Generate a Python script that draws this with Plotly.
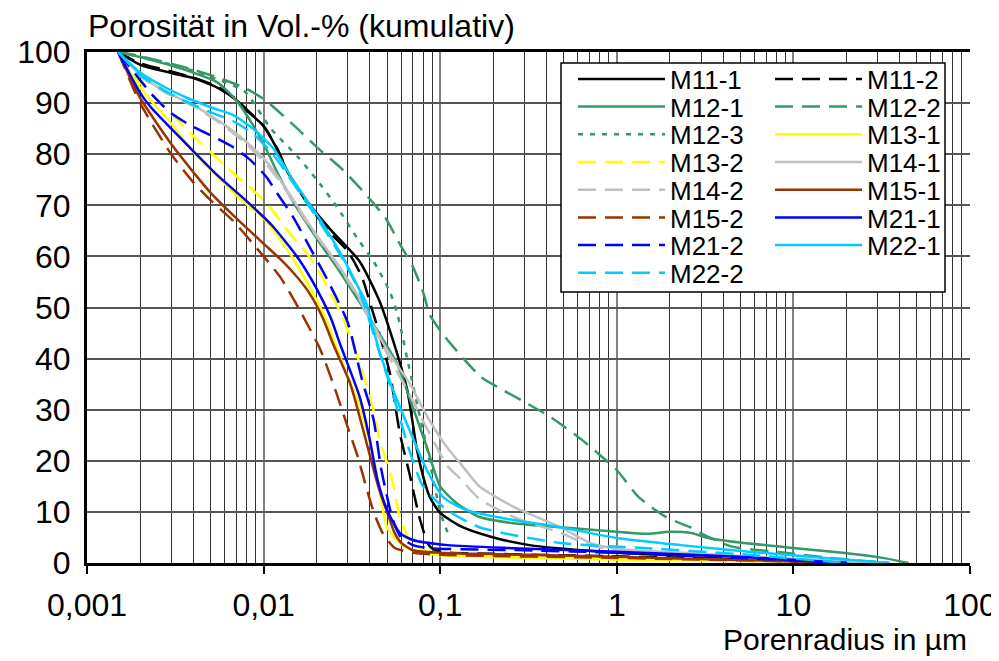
import plotly.graph_objects as go

# Porenradius in µm (x) und kumulative Porosität in Vol.-% (y)
x_m11_1 = [0.0015, 0.002, 0.003, 0.004, 0.0055, 0.007, 0.008, 0.01, 0.012, 0.0137, 0.018, 0.024, 0.035,
           0.045, 0.054, 0.065, 0.074, 0.08, 0.087, 0.1, 0.134, 0.2, 0.32, 0.5, 1, 3, 10, 30]
y_m11_1 = [100, 97.5, 95.9, 94.9, 93, 90.6, 88.6, 85.5, 80.8, 76.5, 70.4, 65.2, 59,
           51.5, 43.6, 33.9, 22, 17, 13, 9.8, 7, 5, 3.5, 2.8, 2, 1.3, 0.6, 0]

x_m11_2 = [0.0015, 0.002, 0.003, 0.004, 0.0055, 0.007, 0.008, 0.01, 0.012, 0.0137, 0.018, 0.024, 0.03,
           0.036, 0.04, 0.046, 0.052, 0.059, 0.067, 0.077, 0.087, 0.1, 0.2, 1, 5, 20]
y_m11_2 = [100, 97.8, 96.2, 95, 93.2, 90.8, 88.8, 85.5, 81, 76.5, 70, 64.5, 61,
           56, 51, 44, 37, 25.5, 17.5, 8.4, 3.3, 2.2, 1.8, 1.3, 0.7, 0]

x_m12_1 = [0.0015, 0.002, 0.0036, 0.0055, 0.0072, 0.0086, 0.0102, 0.012, 0.0145, 0.02, 0.027, 0.035,
           0.045, 0.057, 0.07, 0.084, 0.1, 0.124, 0.167, 0.26, 0.48, 1, 1.5, 2, 2.6, 3.3, 5, 9, 19, 32, 45]
y_m12_1 = [100, 99, 96.5, 94, 90, 86, 81.4, 76.3, 71, 63.5, 57, 51,
           45, 39, 30.5, 22.7, 15, 11.7, 9, 7.8, 7, 6.1, 5.7, 6.1, 5.9, 4.9, 4, 3.1, 2, 1, 0]

x_m12_2 = [0.0015, 0.002, 0.0036, 0.0055, 0.0078, 0.0102, 0.015, 0.02, 0.028, 0.036, 0.049, 0.06,
           0.07, 0.08, 0.0875, 0.1, 0.114, 0.17, 0.21, 0.3, 0.42, 0.64, 0.83, 1, 1.33, 1.9, 2.6,
           3.3, 4.5, 9, 16, 35]
y_m12_2 = [100, 99.2, 97, 95, 93, 90.6, 85.5, 81.4, 77, 73, 67.5, 62,
           58, 53, 48.5, 45.5, 43, 36.4, 34.5, 31.5, 28.6, 24, 20.7, 18.2, 12.9, 9, 7,
           5.1, 3.2, 2, 1, 0]

x_m12_3 = [0.0015, 0.002, 0.0036, 0.0055, 0.0078, 0.011, 0.0156, 0.02, 0.026, 0.034, 0.042, 0.047,
           0.052, 0.057, 0.0615, 0.065, 0.07, 0.074, 0.08, 0.087, 0.1, 0.113]
y_m12_3 = [100, 99.1, 96.8, 94.6, 92.3, 85, 79.5, 75, 69.7, 63.5, 59, 56,
           53, 49, 44, 40, 35, 31, 26, 20, 10, 5]

x_m13_1 = [0.0015, 0.002, 0.003, 0.004, 0.0057, 0.0075, 0.01, 0.014, 0.019, 0.023, 0.026, 0.03,
           0.034, 0.04, 0.044, 0.05, 0.059, 0.07, 0.1, 0.3, 1, 5, 20]
y_m13_1 = [100, 93, 86, 80.5, 75, 71, 67.5, 60.7, 52.8, 47, 42, 36.5,
           32, 23.5, 17, 7, 3.9, 2.5, 1.5, 1, 0.7, 0.4, 0]

x_m13_2 = [0.0015, 0.002, 0.003, 0.0038, 0.006, 0.0074, 0.0087, 0.0108, 0.014, 0.0175, 0.0208, 0.028,
           0.035, 0.042, 0.0455, 0.05, 0.054, 0.059, 0.067, 0.08, 0.1, 0.3, 1, 5, 20]
y_m13_2 = [100, 94, 88, 84.3, 77.9, 75, 73, 69.7, 64.6, 60.7, 56.8, 48.1,
           39.1, 29.9, 24, 19.5, 15.7, 9, 4.5, 2.5, 2, 1.2, 0.8, 0.4, 0]

x_m14_1 = [0.0015, 0.002, 0.0028, 0.004, 0.0057, 0.008, 0.0104, 0.0124, 0.019, 0.026, 0.034, 0.05,
           0.067, 0.085, 0.11, 0.13, 0.167, 0.26, 0.48, 0.7, 1, 3, 10, 30]
y_m14_1 = [100, 95.5, 92.2, 89.6, 86.3, 82.4, 78.5, 75, 65.2, 58.7, 52.5, 41.7,
           35.2, 28.5, 22.5, 19.5, 15, 11, 7, 4, 2.8, 1.8, 0.8, 0]

x_m14_2 = [0.0015, 0.002, 0.0028, 0.004, 0.0057, 0.008, 0.0104, 0.0124, 0.019, 0.026, 0.034, 0.05,
           0.067, 0.085, 0.11, 0.13, 0.167, 0.26, 0.48, 0.7, 1, 3, 10, 30]
y_m14_2 = [100, 95.3, 92, 89.4, 86, 82, 78, 74.6, 65, 58.5, 52.2, 41,
           33, 26, 19, 16.5, 12.5, 9, 5.9, 3.5, 2.5, 1.5, 0.7, 0]

x_m15_1 = [0.0015, 0.002, 0.003, 0.004, 0.005, 0.007, 0.01, 0.0124, 0.015, 0.018, 0.0216, 0.025,
           0.031, 0.036, 0.04, 0.045, 0.05, 0.055, 0.06, 0.07, 0.1, 0.3, 1, 5, 20]
y_m15_1 = [100, 91, 82, 76.5, 72.5, 67.5, 62.5, 59.5, 56.5, 53, 48, 42.5,
           35, 27, 21, 14.5, 10, 6, 4, 2.5, 2, 1.6, 1.2, 0.6, 0]

x_m15_2 = [0.0015, 0.002, 0.003, 0.004, 0.005, 0.0067, 0.01, 0.0124, 0.016, 0.021, 0.026, 0.03,
           0.034, 0.038, 0.042, 0.047, 0.055, 0.07, 0.1, 1, 10, 20]
y_m15_2 = [100, 90, 80, 74.5, 71, 67, 60, 56, 49.5, 41.7, 33, 26.5,
           21, 15, 10, 6, 3, 2, 1.6, 1, 0.3, 0]

x_m21_1 = [0.0015, 0.002, 0.0023, 0.003, 0.0041, 0.0055, 0.0079, 0.0112, 0.0158, 0.019, 0.024, 0.027,
           0.035, 0.04, 0.044, 0.05, 0.059, 0.07, 0.11, 0.26, 1, 5, 20]
y_m21_1 = [100, 92, 89.2, 85, 80.2, 75.8, 71, 66, 59.5, 55, 48, 43,
           32.5, 24, 16.5, 10.4, 5.9, 4.5, 3.5, 2.9, 2.2, 1.2, 0]

x_m21_2 = [0.0015, 0.002, 0.0024, 0.003, 0.0037, 0.0052, 0.0067, 0.0084, 0.0104, 0.0119, 0.0147, 0.019,
           0.023, 0.03, 0.036, 0.042, 0.046, 0.05, 0.054, 0.06, 0.07, 0.087, 0.3, 1, 5, 20]
y_m21_2 = [100, 94.5, 91.2, 88, 86, 83.4, 81.4, 78.9, 75.5, 72.4, 67.7, 60.7,
           55.4, 47, 36, 28, 19, 13, 8.4, 5, 3.5, 2.9, 2.5, 2, 1, 0]

x_m22_1 = [0.0015, 0.002, 0.0028, 0.0037, 0.0052, 0.0067, 0.0087, 0.0113, 0.0146, 0.021, 0.028, 0.035,
           0.038, 0.045, 0.054, 0.067, 0.075, 0.084, 0.104, 0.14, 0.26, 0.48, 1, 2.3, 5.6, 15, 35]
y_m22_1 = [100, 96, 93, 91, 89, 87.7, 85, 81.2, 75, 67.1, 59.9, 53.4,
           51, 41.7, 33.9, 26, 22, 18.2, 12.9, 10.4, 8.4, 7, 4.9, 3.5, 2.2, 1, 0]

x_m22_2 = [0.0015, 0.002, 0.0028, 0.0037, 0.0052, 0.0067, 0.0087, 0.0113, 0.0146, 0.021, 0.028, 0.035,
           0.045, 0.054, 0.067, 0.08, 0.109, 0.167, 0.48, 1.5, 5.6, 20]
y_m22_2 = [100, 95.5, 92.3, 90.2, 88, 86.5, 84, 80, 74.5, 66.5, 59.5, 53,
           41.5, 33, 22, 15, 10.4, 7, 3.9, 2.9, 1.6, 0]

x_tickvals = [0.001, 0.01, 0.1, 1, 10, 100]
x_ticktext = ['0,001', '0,01', '0,1', '1', '10', '100']
x_minor = [k * 10.0 ** e for e in range(-3, 2) for k in range(2, 10)]

GREEN = '#339966'
YELLOW = '#FFFF00'
GRAY = '#C0C0C0'
BROWN = '#993300'
BLUE = '#0000FF'
CYAN = '#00CCFF'
DASH = '18px,9px'
DOT = '5px,7px'

# name, x, y, colour, dash, legend column, legend row
series = [
    ('M11-1', x_m11_1, y_m11_1, 'black', 'solid', 0, 0),
    ('M11-2', x_m11_2, y_m11_2, 'black', DASH, 1, 0),
    ('M12-1', x_m12_1, y_m12_1, GREEN, 'solid', 0, 1),
    ('M12-2', x_m12_2, y_m12_2, GREEN, DASH, 1, 1),
    ('M12-3', x_m12_3, y_m12_3, GREEN, DOT, 0, 2),
    ('M13-1', x_m13_1, y_m13_1, YELLOW, 'solid', 1, 2),
    ('M13-2', x_m13_2, y_m13_2, YELLOW, DASH, 0, 3),
    ('M14-1', x_m14_1, y_m14_1, GRAY, 'solid', 1, 3),
    ('M14-2', x_m14_2, y_m14_2, GRAY, DASH, 0, 4),
    ('M15-1', x_m15_1, y_m15_1, BROWN, 'solid', 1, 4),
    ('M15-2', x_m15_2, y_m15_2, BROWN, DASH, 0, 5),
    ('M21-1', x_m21_1, y_m21_1, BLUE, 'solid', 1, 5),
    ('M21-2', x_m21_2, y_m21_2, BLUE, DASH, 0, 6),
    ('M22-1', x_m22_1, y_m22_1, CYAN, 'solid', 1, 6),
    ('M22-2', x_m22_2, y_m22_2, CYAN, DASH, 0, 7),
]

FONT = 'Liberation Sans, Arial, sans-serif'
W, H = 999, 661
OFF = 8  # default body margin of the page shifts the figure by 8 px
# plot area in window pixels: x 87..970, y 52..563
L, T = 87 - OFF, 52 - OFF
R, B = W - (970 - OFF), H - (563 - OFF)
PW, PH = W - L - R, H - T - B


def px_x(p):
    return (p - OFF - L) / PW


def px_y(p):
    return (H - B - (p - OFF)) / PH


fig = go.Figure()
legends = {}
for i, (name, xs, ys, color, dash, col, row) in enumerate(series):
    key = 'legend' if i == 0 else f'legend{i + 1}'
    fig.add_trace(go.Scatter(
        x=xs, y=ys, name=name, mode='lines',
        line={'color': color, 'width': 2.5, 'dash': dash, 'shape': 'spline', 'smoothing': 0.6},
        legend=key,
    ))
    legends[key] = dict(
        x=px_x(573 + 197 * col), y=px_y(79 + 27.7 * row),
        xanchor='left', yanchor='middle',
        bgcolor='rgba(0,0,0,0)', borderwidth=0,
        font={'family': FONT, 'size': 26, 'color': 'black'},
        itemwidth=87, orientation='v',
    )

fig.update_layout(
    width=W, height=H, autosize=False,
    margin={'l': L, 'r': R, 't': T, 'b': B},
    paper_bgcolor='white', plot_bgcolor='white',
    font={'family': FONT, 'size': 32, 'color': 'black'},
    showlegend=True,
    xaxis={
        'type': 'log', 'range': [-3, 2], 'automargin': False,
        'tickvals': x_tickvals, 'ticktext': x_ticktext,
        'ticks': 'outside', 'ticklen': 8, 'tickwidth': 2, 'tickcolor': 'black',
        'ticklabelstandoff': 4,
        'showline': True, 'linecolor': 'black', 'linewidth': 3, 'mirror': True,
        'showgrid': True, 'gridcolor': '#808080', 'gridwidth': 2,
        'minor': {'tickvals': x_minor, 'showgrid': True, 'gridcolor': '#333333',
                  'gridwidth': 1, 'ticks': ''},
        'zeroline': False,
        'tickfont': {'size': 32},
    },
    yaxis={
        'range': [0, 100], 'dtick': 10, 'tick0': 0, 'automargin': False,
        'ticks': '', 'ticklabelstandoff': 7,
        'showline': True, 'linecolor': 'black', 'linewidth': 3,
        'showgrid': True, 'gridcolor': '#555555', 'gridwidth': 1.5,
        'zeroline': False,
        'tickfont': {'size': 32},
    },
    shapes=[dict(type='rect', xref='paper', yref='paper', layer='above',
                 x0=px_x(561), x1=px_x(945), y0=px_y(292), y1=px_y(63),
                 fillcolor='white', line={'color': 'black', 'width': 1.5})],
    annotations=[
        dict(text='Porosität in Vol.-% (kumulativ)', xref='paper', yref='paper',
             x=px_x(86), y=px_y(26), xanchor='left', yanchor='middle',
             showarrow=False, font={'size': 32}),
        dict(text='Porenradius in µm', xref='paper', yref='paper',
             x=px_x(969), y=px_y(639), xanchor='right', yanchor='middle',
             showarrow=False, font={'size': 30}),
    ],
    **legends,
)

fig.write_html('out.html')
